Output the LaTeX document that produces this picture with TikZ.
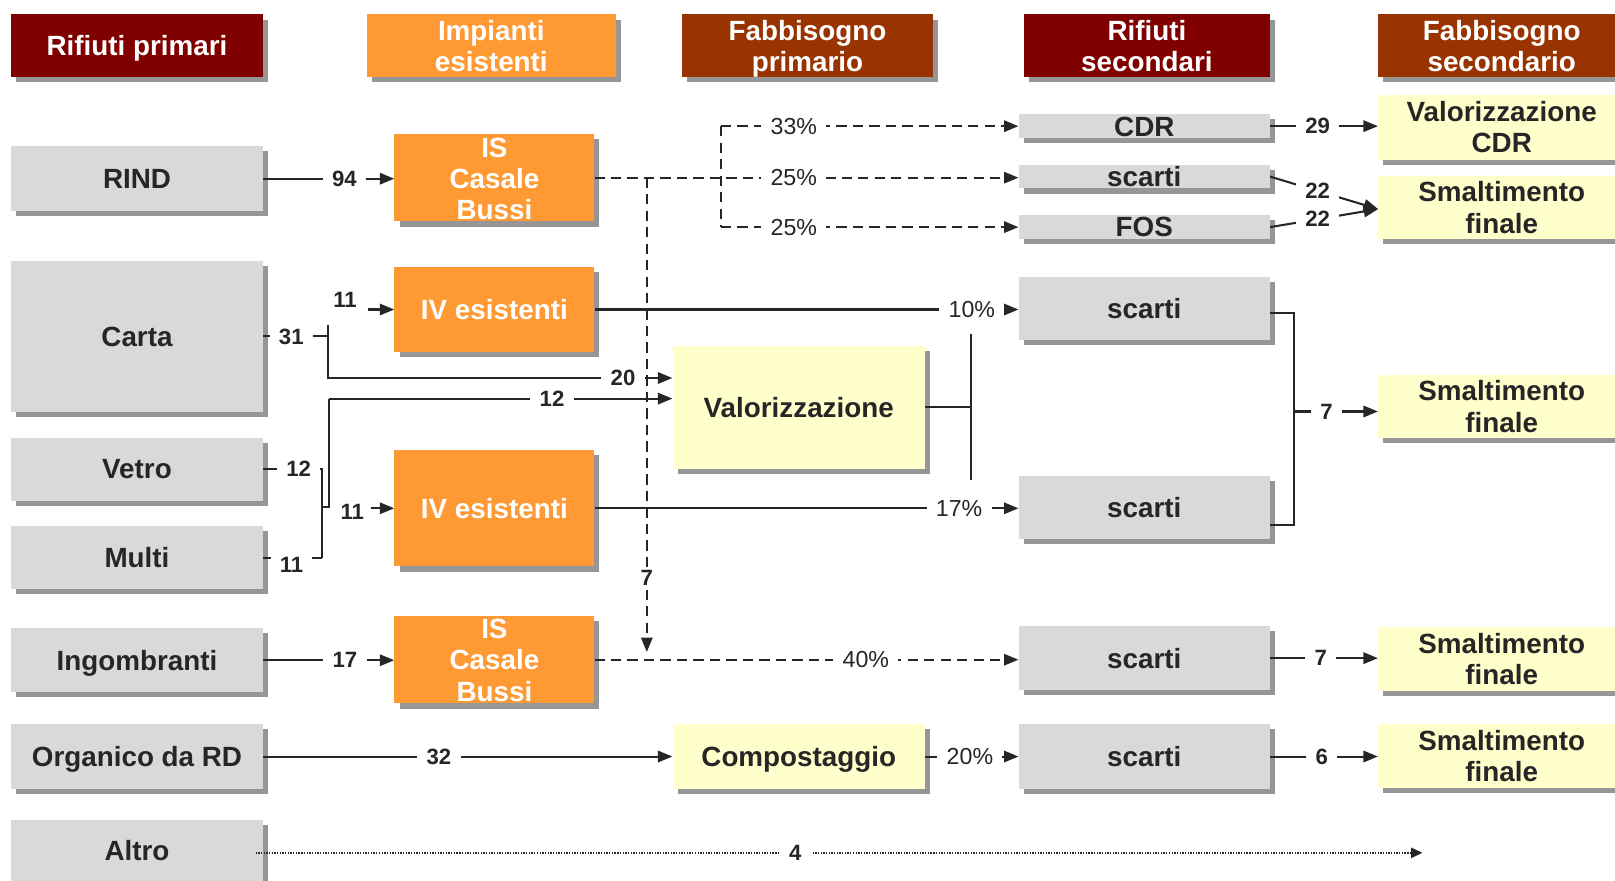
\documentclass[tikz,border=0pt]{standalone}
\usepackage{fontspec}
\setmainfont{Liberation Sans}
\usetikzlibrary{shadows,arrows.meta}
\definecolor{boxgray}{HTML}{D9D9D9}
\definecolor{shadowgray}{HTML}{969696}
\definecolor{yel}{HTML}{FFFFCC}
\definecolor{orng}{HTML}{FF9933}
\definecolor{dred}{HTML}{800000}
\definecolor{brwn}{HTML}{993300}
\definecolor{ink}{HTML}{262626}
\begin{document}
\begin{tikzpicture}[x=1pt,y=-1pt,
  box/.style={rectangle, inner sep=0pt, draw=none,
    drop shadow={shadow xshift=5pt, shadow yshift=-5pt, fill=shadowgray, opacity=1}},
  gbox/.style={box, fill=boxgray},
  obox/.style={box, fill=orng},
  ybox/.style={box, fill=yel},
  rbox/.style={box, fill=dred},
  bbox/.style={box, fill=brwn},
  txt/.style={inner sep=0pt, text depth=0pt, align=center,
    font=\fontsize{27}{30.5}\selectfont\bfseries},
  gtxt/.style={txt, text=ink},
  wtxt/.style={txt, text=white},
  ln/.style={draw=ink, line width=2pt},
  arr/.style={ln, -{Triangle[length=14pt,width=11pt]}},
  dsh/.style={dash pattern=on 10pt off 6pt},
  dots/.style={dash pattern=on 1.3pt off 1.3pt},
  num/.style={fill=white, text=ink, inner xsep=9pt, inner ysep=2pt, text depth=0pt,
    font=\fontsize{21.5}{23}\selectfont\bfseries},
  pct/.style={fill=white, text=ink, inner xsep=9pt, inner ysep=2pt, text depth=0pt,
    font=\fontsize{22.5}{24}\selectfont},
]
\useasboundingbox (0,0) rectangle (1568,855);
\clip (0,0) rectangle (1568,855);

% headers
\node[rbox, minimum width=244pt, minimum height=61pt] (h1) at (133,44.5) {};
\node[wtxt] (h1t) at (h1) {Rifiuti primari};
\node[obox, minimum width=242pt, minimum height=61pt] (h2) at (477,44.5) {};
\node[wtxt] (h2t) at (h2) {Impianti\\esistenti};
\node[bbox, minimum width=244pt, minimum height=61pt] (h3) at (784,44.5) {};
\node[wtxt] (h3t) at (h3) {Fabbisogno\\primario};
\node[rbox, minimum width=239pt, minimum height=61pt] (h4) at (1113.5,44.5) {};
\node[wtxt] (h4t) at (h4) {Rifiuti\\secondari};
\node[bbox, minimum width=240pt, minimum height=61pt] (h5) at (1458,44.5) {};
\node[wtxt] (h5t) at (h5) {Fabbisogno\\secondario};

% column 1
\node[gbox, minimum width=244pt, minimum height=63pt] (rind) at (133,173.5) {};
\node[gtxt] (rindt) at (rind) {RIND};
\node[gbox, minimum width=244pt, minimum height=147pt] (carta) at (133,326.5) {};
\node[gtxt] (cartat) at (carta) {Carta};
\node[gbox, minimum width=244pt, minimum height=61pt] (vetro) at (133,455.5) {};
\node[gtxt] (vetrot) at (vetro) {Vetro};
\node[gbox, minimum width=244pt, minimum height=61pt] (multi) at (133,541.5) {};
\node[gtxt] (multit) at (multi) {Multi};
\node[gbox, minimum width=244pt, minimum height=62pt] (ingo) at (133,641) {};
\node[gtxt] (ingot) at (ingo) {Ingombranti};
\node[gbox, minimum width=244pt, minimum height=63pt] (org) at (133,734.5) {};
\node[gtxt] (orgt) at (org) {Organico da RD};
\node[gbox, minimum width=244pt, minimum height=64pt] (altro) at (133,828) {};
\node[gtxt] (altrot) at (133,826) {Altro};

% column 2
\node[obox, minimum width=194pt, minimum height=85pt] (is1) at (480,172.5) {};
\node[wtxt] (is1t) at (480,173.5) {IS\\Casale\\Bussi};
\node[obox, minimum width=194pt, minimum height=83pt] (iv1) at (480,300.5) {};
\node[wtxt] (iv1t) at (iv1) {IV esistenti};
\node[obox, minimum width=194pt, minimum height=113pt] (iv2) at (480,493.5) {};
\node[wtxt] (iv2t) at (iv2) {IV esistenti};
\node[obox, minimum width=194pt, minimum height=85pt] (is2) at (480,640.5) {};
\node[wtxt] (is2t) at (480,641) {IS\\Casale\\Bussi};

% column 3
\node[ybox, minimum width=245pt, minimum height=119pt] (valo) at (775.5,395.5) {};
\node[gtxt] (valot) at (valo) {Valorizzazione};
\node[ybox, minimum width=245pt, minimum height=63pt] (comp) at (775.5,734.5) {};
\node[gtxt] (compt) at (comp) {Compostaggio};

% column 4
\node[gbox, minimum width=244pt, minimum height=23pt] (cdr) at (1111,122.5) {};
\node[gtxt] (cdrt) at (1111,123) {CDR};
\node[gbox, minimum width=244pt, minimum height=23pt] (sc1) at (1111,171.5) {};
\node[gtxt] (sc1t) at (sc1) {scarti};
\node[gbox, minimum width=244pt, minimum height=23pt] (fos) at (1111,220.5) {};
\node[gtxt] (fost) at (fos) {FOS};
\node[gbox, minimum width=244pt, minimum height=61pt] (sc2) at (1111,299.5) {};
\node[gtxt] (sc2t) at (sc2) {scarti};
\node[gbox, minimum width=244pt, minimum height=61pt] (sc3) at (1111,492.5) {};
\node[gtxt] (sc3t) at (sc3) {scarti};
\node[gbox, minimum width=244pt, minimum height=62pt] (sc4) at (1111,639) {};
\node[gtxt] (sc4t) at (sc4) {scarti};
\node[gbox, minimum width=244pt, minimum height=63pt] (sc5) at (1111,734.5) {};
\node[gtxt] (sc5t) at (sc5) {scarti};

% column 5
\node[ybox, minimum width=240pt, minimum height=63pt] (vcdr) at (1458,123.5) {};
\node[gtxt] (vcdrt) at (vcdr) {Valorizzazione\\CDR};
\node[ybox, minimum width=240pt, minimum height=61pt] (sf1) at (1458,201.5) {};
\node[gtxt] (sf1t) at (sf1) {Smaltimento\\finale};
\node[ybox, minimum width=240pt, minimum height=61pt] (sf2) at (1458,394.5) {};
\node[gtxt] (sf2t) at (sf2) {Smaltimento\\finale};
\node[ybox, minimum width=240pt, minimum height=62pt] (sf3) at (1458,640) {};
\node[gtxt] (sf3t) at (sf3) {Smaltimento\\finale};
\node[ybox, minimum width=240pt, minimum height=62pt] (sf4) at (1458,734) {};
\node[gtxt] (sf4t) at (sf4) {Smaltimento\\finale};

% RIND -> IS
\draw[arr] (rind.east) -- node[num,pos=0.62]{94} (rind.east -| is1.west);

% IS dashed split
\coordinate (dt) at (700,122.5);
\coordinate (db) at (700,220.5);
\coordinate (d7a) at (628,172.5);
\coordinate (d7b) at (628,633);
\draw[ln,dsh] (dt) -- (db);
\draw[arr,dsh] (is1.east) -- node[pct,pos=0.47]{25\%} (is1.east -| sc1.west);
\draw[arr,dsh] (dt) -- node[pct,pos=0.245]{33\%} (dt -| cdr.west);
\draw[arr,dsh] (db) -- node[pct,pos=0.245]{25\%} (db -| fos.west);
\draw[arr,dsh] (d7a) -- node[num,pos=0.843]{7} (d7b);

% Carta
\coordinate (c31) at (318,326.5);
\coordinate (c20a) at (318,316);
\coordinate (c20b) at (318,367);
\draw[ln] (carta.east) -- node[num,pos=0.44]{31} (c31);
\draw[arr] (c20a) -- (c20b) -- node[num,pos=0.857]{20} (c20b -| valo.west);
\node[num] (n11a) at (335,291) {11};
\coordinate (a11a) at (357,300.5);
\draw[arr] (a11a) -- (a11a -| iv1.west);

% Vetro / Multi
\coordinate (v12) at (313,455.5);
\coordinate (m11) at (313,541.5);
\coordinate (jm) at (313,492);
\coordinate (jn) at (319,492);
\coordinate (j12) at (319,387);
\draw[ln] (vetro.east) -- node[num,pos=0.6]{12} (v12) -- (m11);
\draw[ln] (multi.east) -- (m11);
\node[num, inner ysep=5pt] (n11m) at (283,548) {11};
\draw[ln] (jm) -- (jn) -- (j12);
\draw[arr] (j12) -- node[num,pos=0.65]{12} (j12 -| valo.west);
\node[num] (n11b) at (342,497) {11};
\coordinate (a11b) at (360,493.5);
\draw[arr] (a11b) -- (a11b -| iv2.west);

% IV -> scarti
\draw[arr] (iv1.east) -- node[pct,pos=0.89]{10\%} (iv1.east -| sc2.west);
\draw[arr] (iv2.east) -- node[pct,pos=0.86]{17\%} (iv2.east -| sc3.west);

% Valorizzazione bar
\coordinate (vb) at (943,395.5);
\coordinate (vbt) at (943,324);
\coordinate (vbb) at (943,466);
\draw[ln] (valo.east) -- (vb);
\draw[ln] (vbt) -- (vbb);

% bracket
\coordinate (bt) at (1256,303.5);
\coordinate (bb) at (1256,510);
\coordinate (bm) at (1256,399.5);
\draw[ln] (sc2.east |- bt) -- (bt) -- (bb) -- (sc3.east |- bb);
\draw[arr] (bm) -- node[num,pos=0.39]{7} (bm -| sf2.west);

% right side top
\draw[arr] (cdr.east) -- node[num,pos=0.44]{29} (cdr.east -| vcdr.west);
\coordinate (cv) at (1338,203);
\draw[arr] (sc1.east) -- node[num,pos=0.44]{22} (cv);
\draw[arr] (fos.east) -- node[num,pos=0.44]{22} (cv);

% lower rows
\draw[arr,dsh] (is2.east) -- node[pct,pos=0.64]{40\%} (is2.east -| sc4.west);
\draw[arr] (sc4.east) -- node[num,pos=0.47]{7} (sc4.east -| sf3.west);
\draw[arr] (ingo.east) -- node[num,pos=0.625]{17} (ingo.east -| is2.west);
\draw[arr] (org.east) -- node[num,pos=0.43]{32} (org.east -| comp.west);
\draw[arr] (comp.east) -- node[pct,pos=0.48]{20\%} (comp.east -| sc5.west);
\draw[arr] (sc5.east) -- node[num,pos=0.48]{6} (sc5.east -| sf4.west);

% Altro
\coordinate (astart) at ([xshift=-7pt]altro.east);
\coordinate (aend) at (1381,828);
\draw[ln, line width=1.4pt, dots, -{Triangle[length=11pt,width=10pt]}] (astart) -- node[num,pos=0.4625]{4} (aend);
\end{tikzpicture}
\end{document}
